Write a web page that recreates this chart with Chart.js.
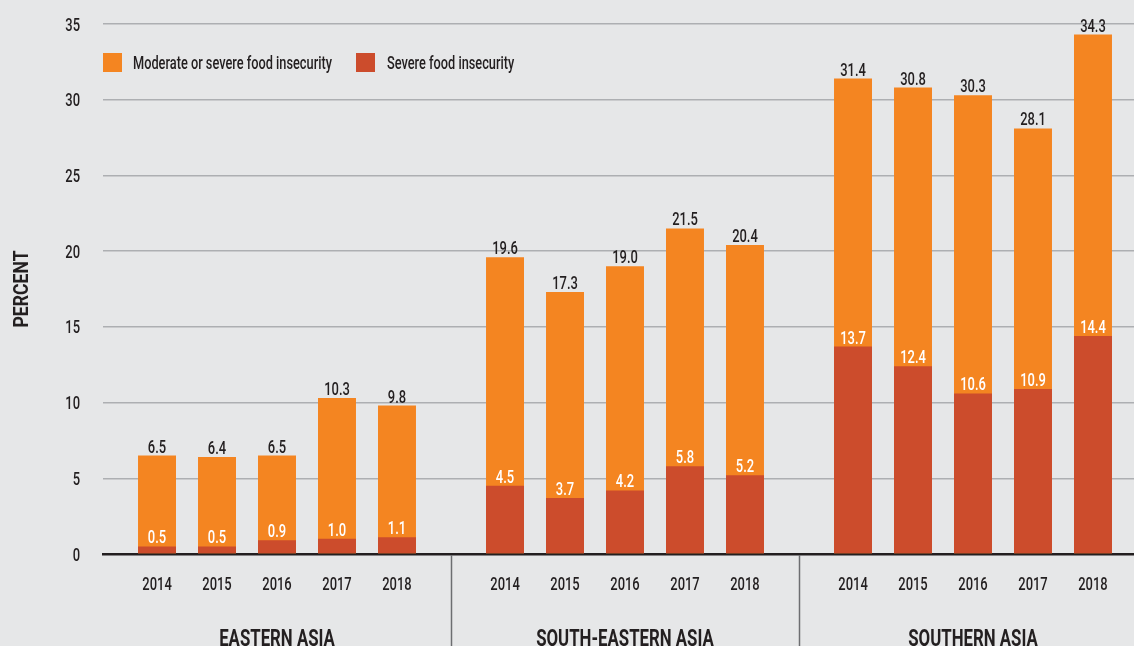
<!DOCTYPE html>
<html>
<head>
<meta charset="utf-8">
<script src="https://cdn.jsdelivr.net/npm/chart.js@4.4.1/dist/chart.umd.min.js"></script>
<style>
  html, body { margin: 0; padding: 0; background: #e6e7e8; overflow: hidden; }
  #wrap { position: absolute; left: 0; top: 0; width: 1147px; height: 646px; }
</style>
</head>
<body>
<div id="wrap"><canvas id="c"></canvas></div>
<script>
// ---- Data ----
const years = ['2014', '2015', '2016', '2017', '2018'];
const regions = ['EASTERN ASIA', 'SOUTH-EASTERN ASIA', 'SOUTHERN ASIA'];
const seriesNames = ['Moderate or severe food insecurity', 'Severe food insecurity'];
const moderateEastern = [6.5, 6.4, 6.5, 10.3, 9.8];
const moderateSouthEastern = [19.6, 17.3, 19.0, 21.5, 20.4];
const moderateSouthern = [31.4, 30.8, 30.3, 28.1, 34.3];
const severeEastern = [0.5, 0.5, 0.9, 1.0, 1.1];
const severeSouthEastern = [4.5, 3.7, 4.2, 5.8, 5.2];
const severeSouthern = [13.7, 12.4, 10.6, 10.9, 14.4];
const yTicks = [0, 5, 10, 15, 20, 25, 30, 35];
const yTitle = 'PERCENT';

const ORANGE = '#f48521';
const RED = '#cc4c2c';
const DARK = '#231f20';
const FONT = "Roboto, 'Liberation Sans', Arial, sans-serif";

const moderateByRegion = [moderateEastern, moderateSouthEastern, moderateSouthern];
const severeByRegion = [severeEastern, severeSouthEastern, severeSouthern];

const datasets = [];
years.forEach((y, i) => {
  datasets.push({
    label: seriesNames[1] + ' ' + y, kind: 'severe', year: y,
    data: severeByRegion.map(r => r[i]),
    backgroundColor: RED, stack: 's' + i,
    barPercentage: 0.633, categoryPercentage: 0.862
  });
});
years.forEach((y, i) => {
  datasets.push({
    label: seriesNames[0] + ' ' + y, kind: 'moderate', year: y,
    data: moderateByRegion.map(r => r[i]),
    backgroundColor: ORANGE, stack: 's' + i,
    barPercentage: 0.633, categoryPercentage: 0.862
  });
});

// condensed text helper (horizontal squeeze to imitate a condensed face)
function txt(ctx, s, x, y, o) {
  ctx.save();
  ctx.translate(x, y);
  if (o.rot) ctx.rotate(o.rot);
  ctx.scale(o.sx || 0.72, 1);
  ctx.font = (o.weight || 500) + ' ' + o.size + 'px ' + FONT;
  ctx.fillStyle = o.color || DARK;
  ctx.textAlign = o.align || 'center';
  ctx.textBaseline = o.base || 'alphabetic';
  ctx.fillText(s, 0, 0);
  ctx.restore();
}

const overlay = {
  id: 'overlay',
  afterDatasetsDraw(chart) {
    const ctx = chart.ctx;
    const ca = chart.chartArea;
    const xs = chart.scales.x, ys = chart.scales.y;
    // value labels
    chart.data.datasets.forEach((ds, di) => {
      const meta = chart.getDatasetMeta(di);
      meta.data.forEach((el, j) => {
        txt(ctx, ds.data[j].toFixed(1), el.x, el.y - 3,
            { size: 18, color: ds.kind === 'severe' ? '#ffffff' : DARK });
      });
    });
    // y tick labels
    yTicks.forEach(v => {
      txt(ctx, String(v), ca.left - 23, ys.getPixelForValue(v) + 6.5, { size: 18, align: 'right' });
    });
    // y title
    txt(ctx, yTitle, 28, (ca.top + ca.bottom) / 2, { size: 21, weight: 700, rot: -Math.PI / 2, sx: 0.84 });
    // year labels under each bar
    years.forEach((y, i) => {
      chart.getDatasetMeta(i).data.forEach(el => txt(ctx, y, el.x, ca.bottom + 36, { size: 18 }));
    });
    // group labels
    regions.forEach((r, i) => {
      txt(ctx, r, xs.getPixelForValue(i), ca.bottom + 92, { size: 24, weight: 700, sx: 0.70 });
    });
    // group separators
    ctx.save();
    ctx.strokeStyle = '#6d6e71';
    ctx.lineWidth = 1.5;
    for (let r = 0; r < regions.length - 1; r++) {
      const xb = Math.round((xs.getPixelForValue(r) + xs.getPixelForValue(r + 1)) / 2) + 0.5;
      ctx.beginPath();
      ctx.moveTo(xb, ca.bottom + 1);
      ctx.lineTo(xb, chart.height);
      ctx.stroke();
    }
    ctx.restore();
    // legend
    const lx = ca.left, ly = ca.top + 29;
    ctx.fillStyle = ORANGE; ctx.fillRect(lx, ly, 19, 19);
    txt(ctx, seriesNames[0], lx + 30, ly + 16, { size: 17.5, align: 'left', sx: 0.73 });
    ctx.fillStyle = RED; ctx.fillRect(lx + 253, ly, 19, 19);
    txt(ctx, seriesNames[1], lx + 284, ly + 16, { size: 17.5, align: 'left', sx: 0.73 });
  }
};

new Chart(document.getElementById('c'), {
  type: 'bar',
  data: { labels: regions, datasets },
  options: {
    responsive: true,
    maintainAspectRatio: false,
    animation: false,
    layout: { padding: { top: 24, left: 0, right: 0, bottom: 0 } },
    plugins: { legend: { display: false }, tooltip: { enabled: false } },
    scales: {
      x: {
        stacked: true,
        afterFit: s => { s.height = 92; },
        grid: { display: false, drawTicks: false },
        border: { display: true, color: DARK, width: 2.5 },
        ticks: { display: false }
      },
      y: {
        stacked: false,
        min: 0, max: 35,
        afterFit: s => { s.width = 103; },
        afterBuildTicks: s => { s.ticks = yTicks.map(v => ({ value: v })); },
        grid: { color: '#adafb2', lineWidth: 1.5, drawTicks: false },
        border: { display: false },
        ticks: { display: false }
      }
    }
  },
  plugins: [overlay]
});
</script>
</body>
</html>
